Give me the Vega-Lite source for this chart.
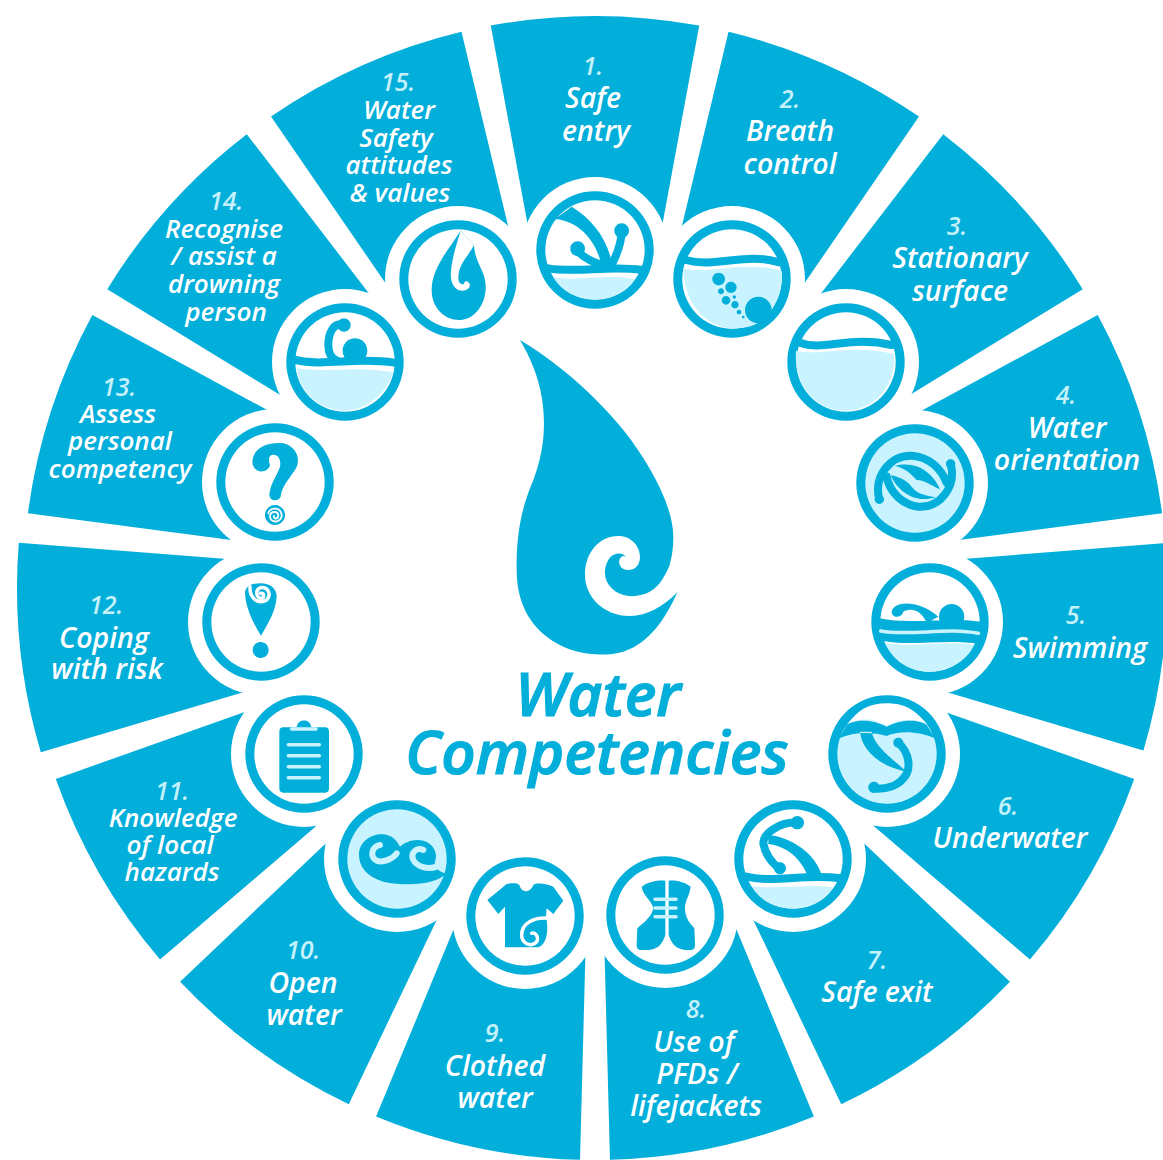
{"$schema":"https://vega.github.io/schema/vega-lite/v6.json","width":1163,"height":1160,"padding":0,"autosize":{"type":"none"},"background":"white","config":{"view":{"stroke":null}},
"resolve":{"scale":{"color":"independent"}},
"datasets":{
"wedges":[{"n":1,"x":595,"y":588,"start":-10.5,"end":10.5,"inner":340,"outer":572},{"n":2,"x":595,"y":588,"start":13.5,"end":34.5,"inner":340,"outer":572},{"n":3,"x":595,"y":588,"start":37.5,"end":58.5,"inner":340,"outer":572},{"n":4,"x":595,"y":588,"start":61.5,"end":82.5,"inner":340,"outer":572},{"n":5,"x":595,"y":588,"start":85.5,"end":106.5,"inner":340,"outer":572},{"n":6,"x":595,"y":588,"start":109.5,"end":130.5,"inner":340,"outer":572},{"n":7,"x":595,"y":588,"start":133.5,"end":154.5,"inner":340,"outer":572},{"n":8,"x":595,"y":588,"start":157.5,"end":178.5,"inner":340,"outer":572},{"n":9,"x":595,"y":588,"start":181.5,"end":202.5,"inner":340,"outer":572},{"n":10,"x":595,"y":588,"start":205.5,"end":226.5,"inner":340,"outer":572},{"n":11,"x":595,"y":588,"start":229.5,"end":250.5,"inner":340,"outer":572},{"n":12,"x":595,"y":588,"start":253.5,"end":274.5,"inner":340,"outer":578},{"n":13,"x":595,"y":588,"start":277.5,"end":298.5,"inner":340,"outer":572},{"n":14,"x":595,"y":588,"start":301.5,"end":322.5,"inner":340,"outer":572},{"n":15,"x":595,"y":588,"start":325.5,"end":346.5,"inner":340,"outer":572}],
"icons":[{"n":1,"x":595,"y":250,"disc":"white"},{"n":2,"x":732,"y":279,"disc":"white"},{"n":3,"x":846,"y":362,"disc":"white"},{"n":4,"x":915,"y":483,"disc":"light"},{"n":5,"x":930,"y":622,"disc":"white"},{"n":6,"x":887,"y":754,"disc":"light"},{"n":7,"x":793,"y":859,"disc":"white"},{"n":8,"x":665,"y":915,"disc":"white"},{"n":9,"x":525,"y":916,"disc":"white"},{"n":10,"x":397,"y":859,"disc":"light"},{"n":11,"x":304,"y":754,"disc":"white"},{"n":12,"x":261,"y":622,"disc":"white"},{"n":13,"x":275,"y":482,"disc":"white"},{"n":14,"x":345,"y":362,"disc":"white"},{"n":15,"x":458,"y":279,"disc":"white"}],
"glyphs":[
{"glyph":"dropBody","tone":"dark","part":"fill","x":390,"y":330},{"glyph":"dropSwirl","tone":"white","part":"fill","x":390,"y":330},
{"glyph":"i1water","tone":"light","part":"fill","x":520,"y":170},{"glyph":"i1body","tone":"dark","part":"fill","x":520,"y":170},
{"glyph":"i2water","tone":"light","part":"fill","x":520,"y":170},{"glyph":"i2balls","tone":"dark","part":"fill","x":520,"y":170},
{"glyph":"i3water","tone":"light","part":"fill","x":770,"y":290},
{"glyph":"i4body","tone":"dark","part":"fill","x":770,"y":290},
{"glyph":"i5water","tone":"light","part":"fill","x":770,"y":290},{"glyph":"i5body","tone":"dark","part":"fill","x":770,"y":290},
{"glyph":"i6cap","tone":"white","part":"fill","x":590,"y":690},{"glyph":"i6body","tone":"dark","part":"fill","x":590,"y":690},
{"glyph":"i7water","tone":"light","part":"fill","x":590,"y":690},{"glyph":"i7body","tone":"dark","part":"fill","x":590,"y":690},
{"glyph":"i8vest","tone":"dark","part":"fill","x":590,"y":690},
{"glyph":"i9shirt","tone":"dark","part":"fill","x":220,"y":690},
{"glyph":"i10wave","tone":"dark","part":"fill","x":220,"y":690},
{"glyph":"i11board","tone":"dark","part":"fill","x":220,"y":690},
{"glyph":"i12pin","tone":"dark","part":"fill","x":190,"y":290},
{"glyph":"i13mark","tone":"dark","part":"fill","x":190,"y":290},
{"glyph":"i14water","tone":"light","part":"fill","x":190,"y":290},{"glyph":"i14head","tone":"dark","part":"fill","x":190,"y":290},
{"glyph":"i15drop","tone":"dark","part":"fill","x":390,"y":200},{"glyph":"i15curl","tone":"white","part":"fill","x":390,"y":200},
{"glyph":"i1wave","tone":"dark","part":"thick","x":520,"y":170},{"glyph":"i1arms","tone":"dark","part":"thick","x":520,"y":170},
{"glyph":"i2wave","tone":"dark","part":"thick","x":520,"y":170},
{"glyph":"i3wave","tone":"dark","part":"thick","x":770,"y":290},
{"glyph":"i4arcs","tone":"dark","part":"thick","x":770,"y":290},
{"glyph":"i5stripe","tone":"light","part":"thin","x":770,"y":290},
{"glyph":"i6arms","tone":"dark","part":"thick","x":590,"y":690},
{"glyph":"i7wave","tone":"dark","part":"thick","x":590,"y":690},{"glyph":"i7koru","tone":"dark","part":"thick","x":590,"y":690},
{"glyph":"i8straps","tone":"light","part":"thin","x":590,"y":690},
{"glyph":"i9curl","tone":"white","part":"thin","x":220,"y":690},
{"glyph":"i10curls","tone":"light","part":"mid","x":220,"y":690},
{"glyph":"i11lines","tone":"light","part":"thin","x":220,"y":690},
{"glyph":"i12curl","tone":"white","part":"thin","x":190,"y":290},
{"glyph":"i13curl","tone":"white","part":"hair","x":190,"y":290},
{"glyph":"i14wave","tone":"dark","part":"thick","x":190,"y":290},{"glyph":"i14arm","tone":"dark","part":"thick","x":190,"y":290}
],
"labels":[
{"text":"1.","x":593,"y":67,"tier":"number"},{"text":"Safe","x":593,"y":99,"tier":"large"},{"text":"entry","x":596,"y":132,"tier":"large"},
{"text":"2.","x":790,"y":100,"tier":"number"},{"text":"Breath","x":790,"y":132,"tier":"large"},{"text":"control","x":790,"y":165,"tier":"large"},
{"text":"3.","x":957,"y":227,"tier":"number"},{"text":"Stationary","x":960,"y":259,"tier":"large"},{"text":"surface","x":960,"y":292,"tier":"large"},
{"text":"4.","x":1066,"y":396,"tier":"number"},{"text":"Water","x":1067,"y":429,"tier":"large"},{"text":"orientation","x":1067,"y":461,"tier":"large"},
{"text":"5.","x":1076,"y":616,"tier":"number"},{"text":"Swimming","x":1080,"y":649,"tier":"large"},
{"text":"6.","x":1008,"y":807,"tier":"number"},{"text":"Underwater","x":1010,"y":839,"tier":"large"},
{"text":"7.","x":877,"y":961,"tier":"number"},{"text":"Safe exit","x":877,"y":993,"tier":"large"},
{"text":"8.","x":696,"y":1010,"tier":"number"},{"text":"Use of","x":694,"y":1043,"tier":"large"},{"text":"PFDs /","x":697,"y":1075,"tier":"large"},{"text":"lifejackets","x":696,"y":1107,"tier":"large"},
{"text":"9.","x":495,"y":1034,"tier":"number"},{"text":"Clothed","x":495,"y":1067,"tier":"large"},{"text":"water","x":495,"y":1099,"tier":"large"},
{"text":"10.","x":303,"y":951,"tier":"number"},{"text":"Open","x":303,"y":984,"tier":"large"},{"text":"water","x":304,"y":1016,"tier":"large"},
{"text":"11.","x":172,"y":792,"tier":"number"},{"text":"Knowledge","x":173,"y":819,"tier":"small"},{"text":"of local","x":170,"y":846,"tier":"small"},{"text":"hazards","x":172,"y":873,"tier":"small"},
{"text":"12.","x":106,"y":606,"tier":"number"},{"text":"Coping","x":104,"y":639,"tier":"large"},{"text":"with risk","x":107,"y":670,"tier":"large"},
{"text":"13.","x":119,"y":388,"tier":"number"},{"text":"Assess","x":118,"y":415,"tier":"small"},{"text":"personal","x":120,"y":442,"tier":"small"},{"text":"competency","x":120,"y":470,"tier":"small"},
{"text":"14.","x":226,"y":202,"tier":"number"},{"text":"Recognise","x":224,"y":230,"tier":"small"},{"text":"/ assist a","x":224,"y":257,"tier":"small"},{"text":"drowning","x":224,"y":285,"tier":"small"},{"text":"person","x":226,"y":313,"tier":"small"},
{"text":"15.","x":398,"y":83,"tier":"number"},{"text":"Water","x":399,"y":111,"tier":"small"},{"text":"Safety","x":396,"y":139,"tier":"small"},{"text":"attitudes","x":399,"y":166,"tier":"small"},{"text":"& values","x":400,"y":194,"tier":"small"},
{"text":"Water","x":598,"y":698,"tier":"heading"},{"text":"Competencies","x":597,"y":756,"tier":"heading"}
]},
"encoding":{"x":{"field":"x","type":"quantitative","scale":{"domain":[0,1163],"range":[0,1163]},"axis":null},"y":{"field":"y","type":"quantitative","scale":{"domain":[0,1160],"range":[0,1160]},"axis":null}},
"layer":[
{"data":{"name":"wedges"},"mark":{"type":"arc","color":"#02aeda"},
"encoding":{"theta":{"field":"start","type":"quantitative","stack":null,"scale":{"domain":[0,360],"range":[0,6.283185]}},"theta2":{"field":"end"},"radius":{"field":"outer","type":"quantitative","scale":{"type":"linear","domain":[0,600],"range":[0,600]}},"radius2":{"field":"inner"}}},
{"data":{"name":"icons"},"mark":{"type":"point","shape":"circle","filled":true,"opacity":1,"color":"white","size":21316,"stroke":null}},
{"data":{"name":"icons"},"mark":{"type":"point","shape":"circle","filled":true,"opacity":1,"color":"#02aeda","size":13783,"stroke":null}},
{"data":{"name":"icons"},"mark":{"type":"point","shape":"circle","filled":true,"opacity":1,"size":9880,"stroke":null},"encoding":{"color":{"field":"disc","type":"nominal","legend":null,"scale":{"domain":["white","light"],"range":["#ffffff","#c9f4ff"]}}}},
{"data":{"name":"glyphs"},"encoding":{
"color":{"field":"tone","type":"nominal","legend":null,"scale":{"domain":["dark","light","white"],"range":["#02aeda","#c9f4ff","#ffffff"]}},
"shape":{"field":"glyph","type":"nominal","legend":null,"scale":{"domain":["dropBody","dropSwirl","i1water","i1body","i2water","i2balls","i3water","i4body","i5water","i5body","i6cap","i6body","i7water","i7body","i8vest","i9shirt","i10wave","i11board","i12pin","i13mark","i14water","i14head","i15drop","i15curl","i1wave","i1arms","i2wave","i3wave","i4arcs","i5stripe","i6arms","i7wave","i7koru","i8straps","i9curl","i10curls","i11lines","i12curl","i13curl","i14wave","i14arm"],
"range":[
"M390 30C500 95 620 200 700 300C780 400 850 530 850 620C850 655 845 685 838 708L862 787C830 860 780 940 700 965C640 982 560 975 500 940C430 900 380 830 380 720C378 600 400 520 430 450C460 370 470 290 455 200C445 140 420 80 390 30Z",
"M862 787C820 830 770 858 720 858C640 858 585 800 585 735C585 665 630 618 685 618C725 618 750 650 750 680C750 705 735 720 715 720C695 720 685 705 688 690C692 680 700 675 708 680C695 665 668 668 655 690C640 715 640 750 665 775C690 800 730 805 770 790C800 778 820 750 838 708L880 760Z",
"M100 322C180 335 260 310 345 328C320 370 270 388 225 388C170 388 125 365 100 322Z",
"M155 110C220 150 265 210 278 290L245 290C235 230 190 155 105 147ZM151 236a22 22 0 1 0 44 0a22 22 0 1 0 -44 0ZM283 182a22 22 0 1 0 44 0a22 22 0 1 0 -44 0Z",
"M490 295C560 315 680 270 785 303C790 330 780 380 755 420C720 470 680 475 637 475C560 475 490 400 490 295Z",
"M577 327a19 19 0 1 0 38 0a19 19 0 1 0 -38 0ZM616 352a17 17 0 1 0 34 0a17 17 0 1 0 -34 0ZM594 364a9 9 0 1 0 18 0a9 9 0 1 0 -18 0ZM605 391a13 13 0 1 0 26 0a13 13 0 1 0 -26 0ZM634 404a11 11 0 1 0 22 0a11 11 0 1 0 -22 0ZM638 381a5 5 0 1 0 10 0a5 5 0 1 0 -10 0ZM650 426a7 7 0 1 0 14 0a7 7 0 1 0 -14 0ZM666 441a4 4 0 1 0 8 0a4 4 0 1 0 -8 0ZM675 420a40 40 0 1 0 80 0a40 40 0 1 0 -80 0Z",
"M78 182C150 200 240 160 372 192C380 300 300 362 227 362C140 362 70 290 78 182Z",
"M362 555C385 610 440 640 497 622C460 615 440 610 425 590C405 565 380 560 362 555ZM510 598C490 550 440 510 375 528C410 535 425 555 440 570C465 570 490 590 510 598ZM314 628a14 14 0 1 0 28 0a14 14 0 1 0 -28 0ZM528 522a14 14 0 1 0 28 0a14 14 0 1 0 -28 0Z",
"M345 1058C420 1075 530 1050 612 1065C590 1115 530 1145 478 1145C420 1145 370 1115 345 1058Z",
"M328 985C420 1005 530 980 632 995L628 1062C530 1045 420 1070 335 1052ZM507 980a38 38 0 1 1 76 0a38 38 0 1 1 -76 0ZM365 965C370 935 440 925 505 980L470 998C450 955 420 955 400 965C395 985 365 985 365 965Z",
"M775 103C800 85 850 80 890 108C930 85 980 85 1010 103C970 50 930 40 890 40C840 40 800 60 775 103Z",
"M770 105C790 90 840 85 890 110C940 85 990 90 1010 105L1035 145C990 125 930 120 890 138C850 125 790 125 748 145ZM810 125C815 180 870 230 950 245C900 200 855 170 845 125ZM910 158a15 15 0 1 0 30 0a15 15 0 1 0 -30 0ZM835 292a17 17 0 1 0 34 0a17 17 0 1 0 -34 0Z",
"M485 588C560 600 650 580 730 592C700 640 650 655 610 655C560 655 510 635 485 588Z",
"M535 435C600 440 680 490 697 562L655 562C630 500 590 470 535 462ZM602 398a20 20 0 1 0 40 0a20 20 0 1 0 -40 0ZM552 535a18 18 0 1 0 36 0a18 18 0 1 0 -36 0Z",
"M155 590C175 575 205 570 226 572L226 735C218 760 205 778 175 780L150 780C140 778 140 770 140 760L142 715C165 695 185 680 190 655C185 630 160 620 155 590ZM302 590C282 575 255 570 236 572L236 735C244 760 258 778 288 780L305 780C315 778 315 770 315 760L313 715C295 695 285 680 285 655C285 630 298 620 302 590Z",
"M860 582C880 578 895 580 898 585C905 610 930 610 940 585C950 578 975 580 1000 590L1030 632L1000 672L980 655L978 680C985 710 985 760 955 772L855 772L855 650L835 672L802 630Z",
"M678 550C650 585 560 590 490 575C440 560 415 530 417 490C420 450 460 430 490 433C515 436 530 450 540 470C555 455 585 445 610 452C640 460 655 490 645 515C640 530 655 545 678 550Z",
"M190 112L230 112C232 85 272 85 274 112L315 112Q327 112 327 125L327 295Q327 308 315 308L190 308Q178 308 178 295L178 125Q178 112 190 112Z",
"M165 905C170 885 190 880 212 880C240 880 260 895 260 920C258 960 235 1000 213 1037C190 1000 165 950 165 905ZM188 1080a24 24 0 1 0 48 0a24 24 0 1 0 -48 0Z",
"M187 515C190 470 240 455 280 460C320 470 335 510 315 540C295 570 275 590 272 620C265 635 240 635 238 615C240 580 260 560 270 530C275 505 260 490 245 495C235 500 235 510 240 525C235 550 190 555 187 515ZM225 675a30 30 0 1 0 60 0a30 30 0 1 0 -60 0Z",
"M320 235C400 250 500 225 610 247C590 310 530 362 465 362C390 362 330 310 320 235Z",
"M458 182a37 37 0 1 0 74 0a37 37 0 1 0 -74 0ZM442 105a20 20 0 1 0 40 0a20 20 0 1 0 -40 0Z",
"M212 92C175 150 125 205 125 270C125 325 165 360 207 360C255 360 290 310 287 255C285 210 255 190 252 135Z",
"M212 92L252 135C235 170 205 190 205 235C205 250 215 255 222 252C222 243 232 240 238 250C245 265 225 278 205 270C190 262 180 245 183 215C185 180 200 130 212 92Z",
"M85 295C170 310 270 285 365 300",
"M170 240C190 265 225 280 265 290M305 182C305 220 290 255 275 285",
"M497 270C590 295 680 245 775 277",
"M90 158C160 185 240 135 365 165",
"M328 628C310 560 360 495 425 497C480 500 515 540 530 578M542 522C560 590 510 655 445 650C400 645 360 610 350 560",
"M332 1023C420 1040 530 1010 625 1030",
"M925 158C960 190 965 240 940 265C925 285 890 300 850 295",
"M470 560C550 580 650 550 750 565",
"M620 398C570 395 520 430 520 460C525 490 545 520 568 535",
"M195 628L258 628M195 654L258 654M195 680L258 680",
"M990 685C940 680 905 700 905 735C905 760 930 770 945 760C960 750 950 725 935 730",
"M480 465C455 470 448 500 470 512C490 520 520 505 530 490M610 480C590 470 570 490 580 510C590 530 625 540 650 530",
"M215 117L288 117M205 164L298 164M205 197L298 197M205 230L298 230M205 263L298 263",
"M180 890C178 925 205 945 230 930C245 915 235 890 212 893C195 898 197 925 215 925C225 922 222 908 212 910",
"M235 670C240 650 275 650 275 678C272 700 240 700 240 678C242 662 265 662 265 678C262 690 250 686 252 678",
"M318 210C400 230 500 200 612 218",
"M462 105C430 95 415 130 415 165C415 190 425 205 440 212"
]}}},
"layer":[
{"transform":[{"filter":"datum.part === 'fill'"}],"mark":{"type":"point","filled":true,"opacity":1,"size":0.4444,"stroke":null}},
{"transform":[{"filter":"datum.part === 'hair'"}],"mark":{"type":"point","filled":false,"opacity":1,"size":0.4444,"strokeCap":"round","strokeWidth":1.8}},
{"transform":[{"filter":"datum.part === 'thin'"}],"mark":{"type":"point","filled":false,"opacity":1,"size":0.4444,"strokeCap":"round","strokeWidth":3.5}},
{"transform":[{"filter":"datum.part === 'mid'"}],"mark":{"type":"point","filled":false,"opacity":1,"size":0.4444,"strokeCap":"round","strokeWidth":6}},
{"transform":[{"filter":"datum.part === 'thick'"}],"mark":{"type":"point","filled":false,"opacity":1,"size":0.4444,"strokeCap":"round","strokeWidth":8}}
]},
{"data":{"name":"labels"},"encoding":{"text":{"field":"text","type":"nominal"},"color":{"field":"tier","type":"nominal","legend":null,"scale":{"domain":["number","small","large","heading"],"range":["#c5f1fb","#ffffff","#ffffff","#02aeda"]}}},
"layer":[
{"transform":[{"filter":"datum.tier === 'number'"}],"mark":{"type":"text","align":"center","baseline":"middle","font":"Open Sans","fontStyle":"italic","fontWeight":600,"fontSize":25}},
{"transform":[{"filter":"datum.tier === 'small'"}],"mark":{"type":"text","align":"center","baseline":"middle","font":"Open Sans","fontStyle":"italic","fontWeight":600,"fontSize":26}},
{"transform":[{"filter":"datum.tier === 'large'"}],"mark":{"type":"text","align":"center","baseline":"middle","font":"Open Sans","fontStyle":"italic","fontWeight":600,"fontSize":28.5}},
{"transform":[{"filter":"datum.tier === 'heading'"}],"mark":{"type":"text","align":"center","baseline":"middle","font":"Open Sans","fontStyle":"italic","fontWeight":600,"fontSize":60,"stroke":"#02aeda","strokeWidth":1.2}}
]}
]}
